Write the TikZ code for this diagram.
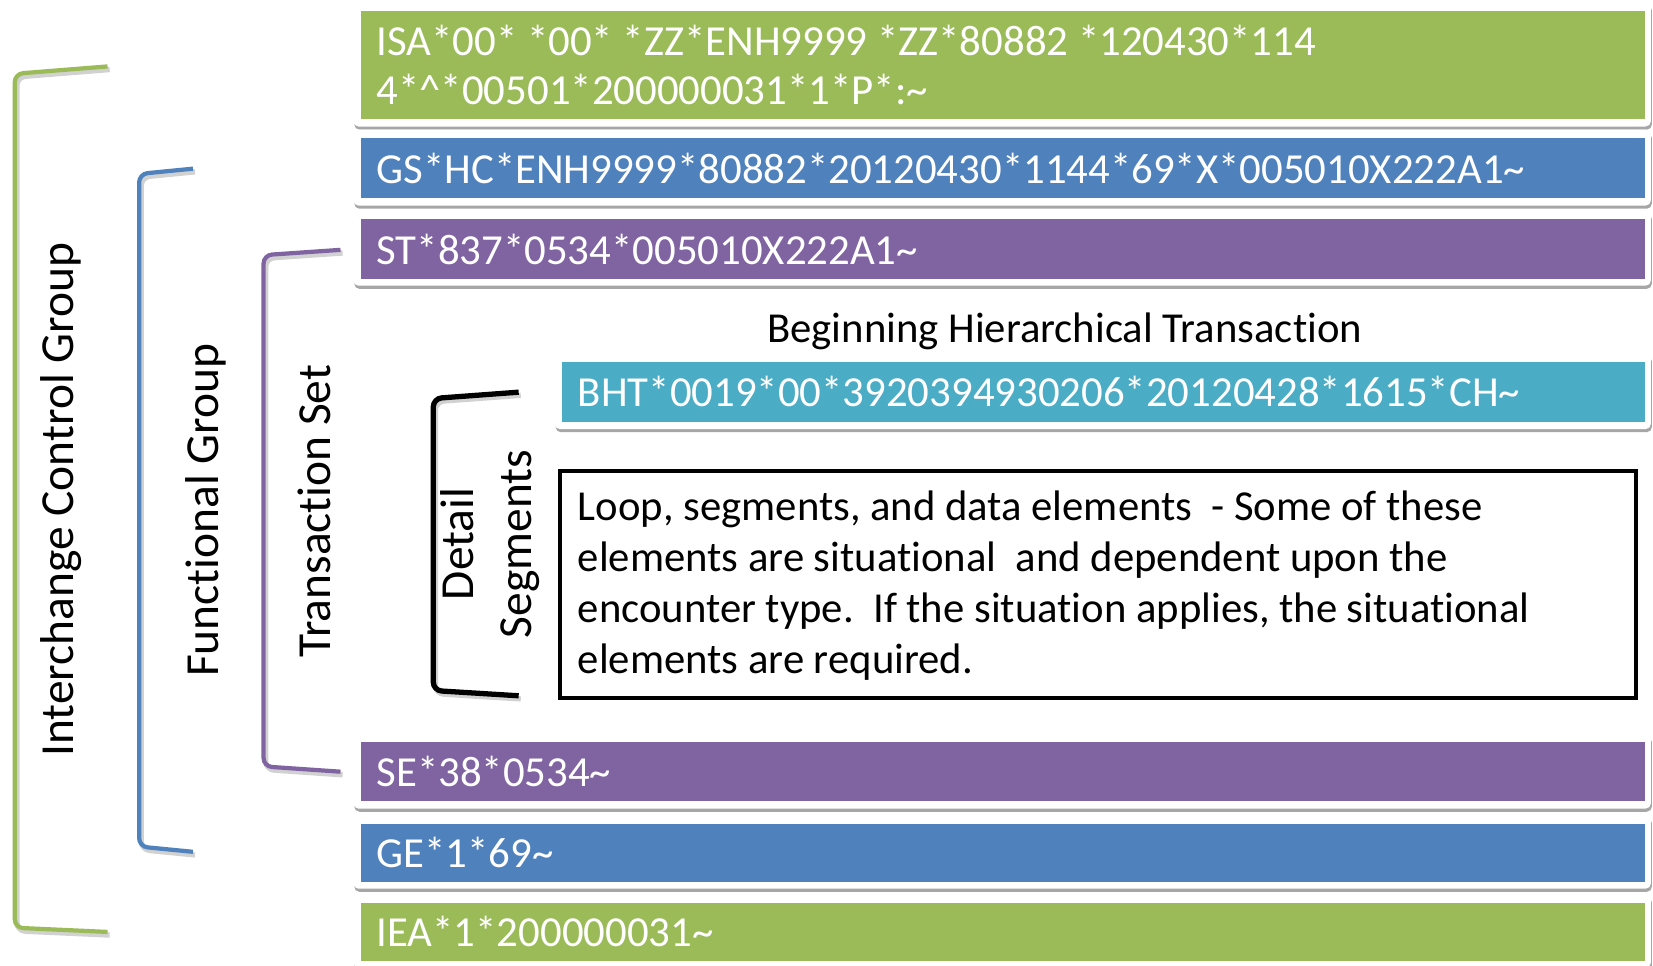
\documentclass[tikz,border=0pt]{standalone}
\usepackage{fontspec}
\setmainfont{Carlito}[Ligatures=NoCommon]
\definecolor{cgreen}{HTML}{9BBB59}
\definecolor{cblue}{HTML}{4F81BD}
\definecolor{cpurple}{HTML}{8064A2}
\definecolor{cteal}{HTML}{4BACC6}
\tikzset{
  bartext/.style={text=white, font=\fontsize{40.6}{47}\selectfont, inner sep=0pt, anchor=west, align=left},
  bodytext/.style={text=black, font=\fontsize{40.5}{48.5}\selectfont, inner sep=0pt, align=left},
  sidelabel/.style={text=black, font=\fontsize{45}{55}\selectfont, rotate=90, inner sep=0pt, align=center},
  brack/.style={line width=4pt, rounded corners=8pt},
  brackshadow/.style={line width=5pt, rounded corners=8pt, draw=black, opacity=0.18},
  segfill/.style={draw=none, inner sep=0pt, anchor=north west}
}
\newcommand\segband[6]{%
  \fill[black!35, rounded corners=5pt] (#2-6,#3-5) rectangle (1567,#4+10);
  \fill[white, rounded corners=5pt] (#2-7,#3-8) rectangle (1566,#4+7);
  \node[segfill, fill=#5, minimum width={(1560-#2)*1pt}, minimum height={(#4-#3)*1pt}] (#1) at (#2,#3) {};
  \node[bartext] (#1t) at ([xshift=15pt]#1.west) {#6};
}
\begin{document}
\begin{tikzpicture}[x=1pt,y=-1pt]
\useasboundingbox (0,0) rectangle (1568,916);
\fill[white] (0,0) rectangle (1568,916);

% bars
\segband{isa}{342}{10}{113}{cgreen}{ISA*00* *00* *ZZ*ENH9999 *ZZ*80882 *120430*114\\4*\textasciicircum*00501*200000031*1*P*:\textasciitilde}
\segband{gs}{342}{131}{188}{cblue}{GS*HC*ENH9999*80882*20120430*1144*69*X*005010X222A1\textasciitilde}
\segband{st}{342}{208}{264}{cpurple}{ST*837*0534*005010X222A1\textasciitilde}
\segband{bht}{533}{343}{400}{cteal}{BHT*0019*00*3920394930206*20120428*1615*CH\textasciitilde}
\segband{se}{342}{704}{760}{cpurple}{SE*38*0534\textasciitilde}
\segband{ge}{342}{781}{836}{cblue}{GE*1*69\textasciitilde}
\segband{iea}{342}{856}{911}{cgreen}{IEA*1*200000031\textasciitilde}

% heading
\node[bodytext] (bhtlabel) at (1010,314) {Beginning Hierarchical Transaction};

% detail box
\node[draw=black, line width=4pt, minimum width=1021pt, minimum height=215pt, anchor=north west, inner sep=0pt] (detail) at (529,445) {};
\node[bodytext, anchor=north west] (detailtext) at (548,465) {Loop, segments, and data elements\ \ - Some of these\\elements are situational\ \ and dependent upon the\\encounter type.\ \ If the situation applies, the situational\\elements are required.};

% brackets: shadows
\draw[brackshadow] (104,66) -- (16,73) -- (16,883) -- (104,887);
\draw[brackshadow] (185,163) -- (134,168) -- (134,806) -- (185,811);
\draw[brackshadow] (325,240) -- (252,245) -- (252,730) -- (325,735);
\draw[brackshadow] (494,375) -- (413,381) -- (413,658) -- (494,663);
% brackets
\draw[brack, cgreen] (102,63) -- (14,70) -- (14,880) -- (102,884);
\draw[brack, cblue] (183,160) -- (132,165) -- (132,803) -- (183,808);
\draw[brack, cpurple] (323,237) -- (250,242) -- (250,727) -- (323,732);
\draw[brack, black, line width=5pt] (492,372) -- (411,378) -- (411,655) -- (492,660);

% side labels
\node[sidelabel] (icg) at (58,474) {Interchange Control Group};
\node[sidelabel] (fg) at (195,484) {Functional Group};
\node[sidelabel] (ts) at (298,485) {Transaction Set};
\node[sidelabel] (ds) at (465,516) {Detail\\Segments};
\end{tikzpicture}
\end{document}
